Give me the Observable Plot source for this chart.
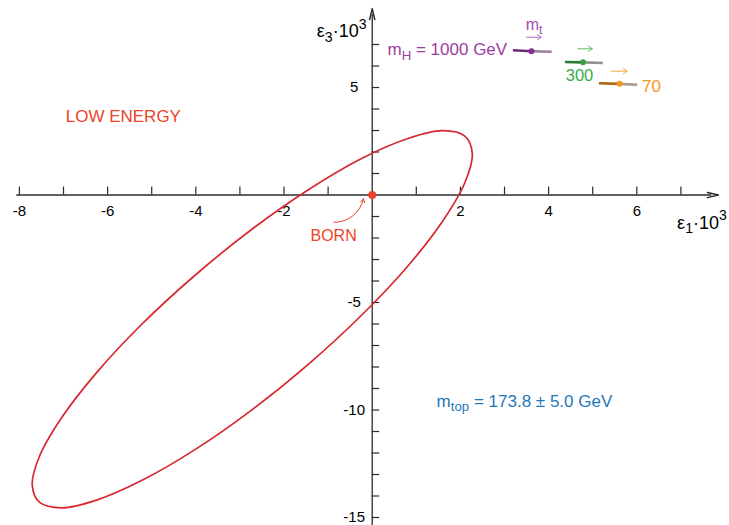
<!DOCTYPE html>
<html>
<head>
<meta charset="utf-8">
<script src="https://cdn.jsdelivr.net/npm/d3@7"></script>
<script src="https://cdn.jsdelivr.net/npm/@observablehq/plot@0.6"></script>
<style>
  html, body { margin: 0; padding: 0; background: #fff; }
  #chart { width: 729px; height: 525px; }
</style>
</head>
<body>
<div id="chart"></div>
<script>
// ---------- data ----------
const xTicks = [-8,-7,-6,-5,-4,-3,-2,-1,1,2,3,4,5,6,7];
const xTickLabels = [-8,-6,-4,-2,2,4,6];
const yTicks = [-15,-14,-13,-12,-11,-10,-9,-8,-7,-6,-5,-4,-3,-2,-1,1,2,3,4,5,6,7];
const yTickLabels = [5,-5,-10,-15];
const xAxisExtent = [-8.06, 7.7];
const yAxisExtent = [-15.4, 8.4];
const axisTips = [{x: 7.85, y: 0, rot: 90}, {x: 0, y: 8.67, rot: 0}];

// ellipse outline (low energy constraint)
const ellipseX = [2.27, 2.10, 1.60, 0.81, -0.23, -1.43, -2.72, -4.01, -5.22, -6.25, -7.04, -7.54,
                  -7.71, -7.54, -7.04, -6.25, -5.22, -4.01, -2.72, -1.43, -0.23, 0.81, 1.60, 2.10];
const ellipseY = [1.92, 2.74, 2.99, 2.63, 1.71, 0.27, -1.58, -3.72, -6.00, -8.26, -10.35, -12.13,
                  -13.48, -14.30, -14.55, -14.19, -13.27, -11.83, -9.98, -7.84, -5.57, -3.30, -1.21, 0.57];

// Born point and arrow
const born = [{x: 0, y: 0}];
const bornArrow = [{x1: -0.87, y1: -1.27, x2: -0.20, y2: -0.18}];

// m_t ranges for m_H = 1000, 300, 70 GeV
const mH = ["1000", "300", "70"];
const mtLowX  = [3.19, 4.37, 5.14];
const mtLowY  = [6.73, 6.19, 5.20];
const mtCenX  = [3.61, 4.78, 5.61];
const mtCenY  = [6.69, 6.17, 5.17];
const mtHighX = [4.07, 5.23, 6.01];
const mtHighY = [6.66, 6.14, 5.13];
// small "increasing m_t" arrows
const arrowX1 = [3.50, 4.66, 5.42];
const arrowX2 = [3.83, 4.99, 5.78];
const arrowY  = [7.34, 6.80, 5.76];

// ---------- styling ----------
const font = "'Liberation Sans', Arial, Helvetica, sans-serif";
const axisColor = "#2b2b2b";
const red = "#d7282f", redText = "#ee4328";
const darkCols  = ["#6b2c6e", "#2d7a35", "#a8681c"];
const lightCols = ["#9a7e9c", "#8c958c", "#a89a84"];
const dotCols   = ["#8a2e8e", "#3a9e42", "#f7941e"];
const arrowCols = ["#b36cc2", "#5dbf5f", "#f8a33a"];
const purple = "#9c3d9f", green = "#3aaa48", orange = "#f7941e", blue = "#1f77bd";

const ellipse = ellipseX.map((x, i) => ({x, y: ellipseY[i]}));
const segs = mH.map((m, i) => ({i, m,
  x1: mtLowX[i], y1: mtLowY[i], xc: mtCenX[i], yc: mtCenY[i], x2: mtHighX[i], y2: mtHighY[i],
  ax1: arrowX1[i], ax2: arrowX2[i], ay: arrowY[i]}));

const plot = Plot.plot({
  width: 729, height: 525, margin: 0,
  x: {domain: [-8.429, 8.102], axis: null},
  y: {domain: [-15.372, 9.047], axis: null},
  style: {fontFamily: font, background: "#fff", overflow: "visible"},
  marks: [
    // axes
    Plot.ruleY([0], {x1: xAxisExtent[0], x2: xAxisExtent[1], stroke: axisColor, strokeWidth: 1.3}),
    Plot.ruleX([0], {y1: yAxisExtent[0], y2: yAxisExtent[1], stroke: axisColor, strokeWidth: 1.3}),
    Plot.vector(axisTips, {x: "x", y: "y", rotate: "rot", shape: "spike", anchor: "end",
      length: 11, r: 2.6, stroke: axisColor}),
    Plot.ruleX(xTicks, {x: d => d, y1: 0, y2: 0.37, stroke: axisColor, strokeWidth: 1.2}),
    Plot.ruleY(yTicks, {y: d => d, x1: 0, x2: 0.17, stroke: axisColor, strokeWidth: 1.2}),
    Plot.text(xTickLabels, {x: d => d, y: 0, dy: 20.5, lineAnchor: "bottom", text: d => String(d),
      fontSize: 15, fill: "#000"}),
    Plot.text(yTickLabels, {x: 0, y: d => d, dx: -18, text: d => String(d),
      fontSize: 15, fill: "#000"}),
    Plot.text(["ε_{3}·10^{3}"], {x: -0.13, y: 7.33, text: d => d, textAnchor: "end", lineAnchor: "bottom",
      fontSize: 18, fill: "#000"}),
    Plot.text(["ε_{1}·10^{3}"], {x: 8.04, y: -1.56, text: d => d, textAnchor: "end", lineAnchor: "bottom",
      fontSize: 18, fill: "#000"}),

    // ellipse
    Plot.line(ellipse, {x: "x", y: "y", curve: "catmull-rom-closed", stroke: red, strokeWidth: 1.7}),

    // Born
    Plot.arrow(bornArrow, {x1: "x1", y1: "y1", x2: "x2", y2: "y2", bend: -40, stroke: redText,
      strokeWidth: 1, headLength: 6}),
    Plot.dot(born, {x: "x", y: "y", r: 4, fill: redText}),
    Plot.text(["BORN"], {x: -1.40, y: -2.12, text: d => d, textAnchor: "start", lineAnchor: "bottom",
      fontSize: 16, fill: redText}),
    Plot.text(["LOW ENERGY"], {x: -6.95, y: 3.39, text: d => d, textAnchor: "start", lineAnchor: "bottom",
      fontSize: 17, fill: redText}),

    // m_t segments
    Plot.link(segs, {x1: "x1", y1: "y1", x2: "xc", y2: "yc", stroke: d => darkCols[d.i], strokeWidth: 2.6}),
    Plot.link(segs, {x1: "xc", y1: "yc", x2: "x2", y2: "y2", stroke: d => lightCols[d.i], strokeWidth: 2.6}),
    Plot.dot(segs, {x: "xc", y: "yc", r: 3, fill: d => dotCols[d.i]}),
    Plot.arrow(segs, {x1: "ax1", y1: "ay", x2: "ax2", y2: "ay", stroke: d => arrowCols[d.i],
      strokeWidth: 1, headLength: 7, headAngle: 70}),
    Plot.text(["m_{t}"], {x: 3.48, y: 7.68, text: d => d, textAnchor: "start", lineAnchor: "bottom",
      fontSize: 16, fill: "#a34fb0"}),
    Plot.text(["m_{H} = " + mH[0] + " GeV"], {x: 3.06, y: 6.49, text: d => d, textAnchor: "end",
      lineAnchor: "bottom", fontSize: 17, fill: purple}),
    Plot.text([mH[1]], {x: 4.70, y: 5.29, text: d => d, lineAnchor: "bottom", fontSize: 16.5, fill: green}),
    Plot.text([mH[2]], {x: 6.12, y: 4.81, text: d => d, textAnchor: "start", lineAnchor: "bottom",
      fontSize: 17, fill: orange}),

    // m_top
    Plot.text(["m_{top} = 173.8 ± 5.0 GeV"], {x: 1.46, y: -9.84, text: d => d, textAnchor: "start",
      lineAnchor: "bottom", fontSize: 17, fill: blue})
  ]
});

// sub/superscript rendering as tspans
function rich(svg) {
  const NS = "http://www.w3.org/2000/svg";
  for (const t of svg.querySelectorAll("text")) {
    const s = t.textContent;
    if (!/[_^]\{/.test(s)) continue;
    t.textContent = "";
    const re = /([_^])\{([^}]*)\}|([^_^]+)/g;
    let m, shift = 0;
    while ((m = re.exec(s))) {
      const ts = document.createElementNS(NS, "tspan");
      if (m[1]) {
        const target = m[1] === "_" ? 0.24 : -0.45;
        ts.setAttribute("font-size", "78%");
        ts.setAttribute("dy", ((target - shift) / 0.78).toFixed(3) + "em");
        shift = target;
        ts.textContent = m[2];
      } else {
        if (shift) ts.setAttribute("dy", (-shift).toFixed(3) + "em");
        shift = 0;
        ts.textContent = m[3];
      }
      t.appendChild(ts);
    }
  }
}
rich(plot);
document.getElementById("chart").appendChild(plot);
</script>
</body>
</html>
